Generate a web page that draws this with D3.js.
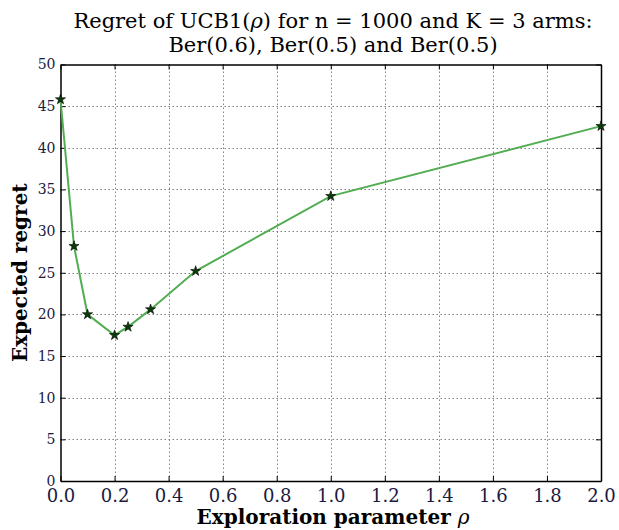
<!DOCTYPE html>
<html>
<head>
<meta charset="utf-8">
<script src="https://cdn.jsdelivr.net/npm/d3@7"></script>
<style>
  body { margin: 0; background: #fff; }
  svg text { font-family: "DejaVu Serif", "Liberation Serif", serif; }
</style>
</head>
<body>
<svg id="chart"></svg>
<script>
// exploration parameter rho and measured regret
const rhoValues = [0, 0.05, 0.1, 0.2, 0.25, 1 / 3, 0.5, 1.0, 2.0];
const regretValues = [45.8, 28.2, 20.0, 17.5, 18.5, 20.6, 25.2, 34.2, 42.6];
const xTicks = [0, 0.2, 0.4, 0.6, 0.8, 1.0, 1.2, 1.4, 1.6, 1.8, 2.0];
const yTicks = [0, 5, 10, 15, 20, 25, 30, 35, 40, 45, 50];

const width = 619;
const height = 530;
const margin = { left: 60.5, right: 18, top: 64.5, bottom: 49 };

let svg = d3.select("#chart").attr("width", width).attr("height", height);

let scX = d3.scaleLinear().domain([0, 2]).range([margin.left, width - margin.right]);
let scY = d3.scaleLinear().domain([0, 50]).range([height - margin.bottom, margin.top]);

// grid lines (dotted)
svg.append("g")
    .selectAll("line")
    .data(xTicks.slice(1, -1))
    .enter()
    .append("line")
    .attr("x1", d => Math.round(scX(d)) + 0.5).attr("x2", d => Math.round(scX(d)) + 0.5)
    .attr("y1", scY(0)).attr("y2", scY(50))
    .attr("stroke", "#808080").attr("stroke-width", 1)
    .attr("stroke-dasharray", "1.5,2.5");
svg.append("g")
    .selectAll("line")
    .data(yTicks.slice(1, -1))
    .enter()
    .append("line")
    .attr("x1", scX(0)).attr("x2", scX(2))
    .attr("y1", d => Math.round(scY(d)) + 0.5).attr("y2", d => Math.round(scY(d)) + 0.5)
    .attr("stroke", "#808080").attr("stroke-width", 1)
    .attr("stroke-dasharray", "1.5,2.5");

// axes, ticks pointing inwards on all four sides
let axisBottom = d3.axisBottom(scX).tickValues(xTicks).tickFormat(d3.format(".1f")).tickSizeInner(-5).tickSizeOuter(0);
let axisTop = d3.axisTop(scX).tickValues(xTicks).tickFormat("").tickSizeInner(-5).tickSizeOuter(0);
let axisLeft = d3.axisLeft(scY).tickValues(yTicks).tickFormat(d3.format("d")).tickSizeInner(-5).tickSizeOuter(0);
let axisRight = d3.axisRight(scY).tickValues(yTicks).tickFormat("").tickSizeInner(-5).tickSizeOuter(0);

let gb = svg.append("g").attr("transform", `translate(0, ${scY(0)})`).call(axisBottom);
gb.selectAll("text").attr("y", 8).attr("font-size", 18).attr("fill", "#1a1a40");
svg.append("g").attr("transform", `translate(0, ${scY(50)})`).call(axisTop);
let gl = svg.append("g").attr("transform", `translate(${scX(0)}, 0)`).call(axisLeft);
gl.selectAll("text").attr("x", -5).attr("font-size", 14).attr("fill", "#1a1a40");
svg.append("g").attr("transform", `translate(${scX(2)}, 0)`).call(axisRight);

svg.selectAll(".domain").attr("stroke", "#000").attr("stroke-width", 1.5);
svg.selectAll(".tick line").attr("stroke", "#000");

// data line
let line = d3.line()
    .x((d, i) => scX(rhoValues[i]))
    .y(d => scY(d));

svg.append("path")
    .datum(regretValues)
    .attr("fill", "none")
    .attr("stroke", "#52ad52")
    .attr("stroke-width", 2)
    .attr("d", line);

// star markers
let star = d3.symbol().type(d3.symbolStar).size(32);
svg.selectAll(".pt")
    .data(regretValues)
    .enter()
    .append("path")
    .attr("class", "pt")
    .attr("d", star)
    .attr("transform", (d, i) => `translate(${scX(rhoValues[i])}, ${scY(d)})`)
    .attr("fill", "#0b3d0b")
    .attr("stroke", "#000")
    .attr("stroke-width", 0.6);

// title and labels
let t1 = svg.append("text")
    .attr("x", 333).attr("y", 28)
    .attr("text-anchor", "middle")
    .attr("font-size", 21);
t1.append("tspan").text("Regret of UCB1(");
t1.append("tspan").attr("font-style", "italic").text("ρ");
t1.append("tspan").text(") for n = 1000 and K = 3 arms:");

svg.append("text")
    .attr("x", 333).attr("y", 52)
    .attr("text-anchor", "middle")
    .attr("font-size", 21)
    .text("Ber(0.6), Ber(0.5) and Ber(0.5)");

let xl = svg.append("text")
    .attr("x", 333).attr("y", 524)
    .attr("text-anchor", "middle")
    .attr("font-size", 20)
    .attr("font-weight", "bold");
xl.append("tspan").text("Exploration parameter ");
xl.append("tspan").attr("font-style", "italic").attr("font-weight", "normal").text("ρ");

svg.append("text")
    .attr("transform", `translate(27, ${scY(25)}) rotate(-90)`)
    .attr("text-anchor", "middle")
    .attr("font-size", 20)
    .attr("font-weight", "bold")
    .text("Expected regret");
</script>
</body>
</html>
